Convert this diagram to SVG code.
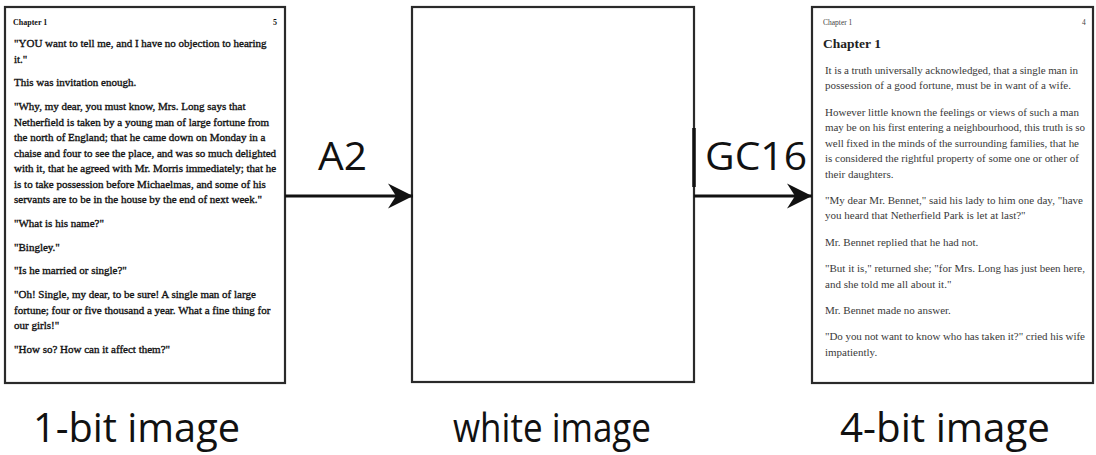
<svg xmlns="http://www.w3.org/2000/svg" width="1096" height="455" viewBox="0 0 1096 455">
  <style>
    .page { fill: #ffffff; stroke: #2a2a2a; stroke-width: 2.2; }
    .mono { font-family: "Liberation Serif", "Times New Roman", serif; font-size: 11px; fill: #111; stroke: #111; stroke-width: 0.35; }
    .gray { font-family: "Liberation Serif", "Times New Roman", serif; font-size: 11px; fill: #3a3a3a; }
    .hdr1 { font-family: "Liberation Serif", "Times New Roman", serif; font-size: 8px; font-weight: bold; fill: #111; }
    .hdr4 { font-family: "Liberation Serif", "Times New Roman", serif; font-size: 7.5px; fill: #444; }
    .head4 { font-family: "Liberation Serif", "Times New Roman", serif; font-size: 13.5px; font-weight: bold; fill: #222; }
    .edge { stroke: #111; stroke-width: 3; fill: none; }
    .tag { font-family: "Open Sans", "Noto Sans", sans-serif; font-size: 38px; fill: #111; }
    .cap { font-family: "Open Sans", "Noto Sans", sans-serif; font-size: 40px; fill: #111; }
  </style>
  <defs>
    <marker id="head" viewBox="0 0 26 26" refX="25" refY="13" markerWidth="26" markerHeight="26" markerUnits="userSpaceOnUse" orient="auto">
      <path d="M25 13 L0 0.5 L8 13 L0 25.5 Z" fill="#111"/>
    </marker>
  </defs>

  <!-- 1-bit page -->
  <g id="node-1bit">
    <rect class="page" x="5" y="7" width="280" height="376"/>
    <text class="hdr1" x="13" y="25">Chapter 1</text>
    <text class="hdr1" x="273" y="25">5</text>
    <text class="mono" x="14" y="47">"YOU want to tell me, and I have no objection to hearing</text>
    <text class="mono" x="14" y="62.5">it."</text>
    <text class="mono" x="14" y="86.3">This was invitation enough.</text>
    <text class="mono" x="14" y="110">"Why, my dear, you must know, Mrs. Long says that</text>
    <text class="mono" x="14" y="125.5">Netherfield is taken by a young man of large fortune from</text>
    <text class="mono" x="14" y="141">the north of England; that he came down on Monday in a</text>
    <text class="mono" x="14" y="156.5">chaise and four to see the place, and was so much delighted</text>
    <text class="mono" x="14" y="172">with it, that he agreed with Mr. Morris immediately; that he</text>
    <text class="mono" x="14" y="187.5">is to take possession before Michaelmas, and some of his</text>
    <text class="mono" x="14" y="203">servants are to be in the house by the end of next week."</text>
    <text class="mono" x="14" y="226.8">"What is his name?"</text>
    <text class="mono" x="14" y="250.6">"Bingley."</text>
    <text class="mono" x="14" y="274.4">"Is he married or single?"</text>
    <text class="mono" x="14" y="298.2">"Oh! Single, my dear, to be sure! A single man of large</text>
    <text class="mono" x="14" y="313.7">fortune; four or five thousand a year. What a fine thing for</text>
    <text class="mono" x="14" y="329.2">our girls!"</text>
    <text class="mono" x="14" y="353">"How so? How can it affect them?"</text>
  </g>

  <!-- white page -->
  <g id="node-white">
    <rect class="page" x="412" y="7" width="282" height="375"/>
  </g>

  <!-- 4-bit page (full lines are justified to the text column) -->
  <g id="node-4bit">
    <rect class="page" x="812" y="7" width="281" height="376"/>
    <text class="hdr4" x="823" y="25">Chapter 1</text>
    <text class="hdr4" x="1082" y="25">4</text>
    <text class="head4" x="823" y="47.5">Chapter 1</text>
    <text class="gray" x="825" y="73.8" textLength="253" lengthAdjust="spacing">It is a truth universally acknowledged, that a single man in</text>
    <text class="gray" x="825" y="89.3">possession of a good fortune, must be in want of a wife.</text>
    <text class="gray" x="825" y="115.6" textLength="254" lengthAdjust="spacing">However little known the feelings or views of such a man</text>
    <text class="gray" x="825" y="131.1" textLength="260" lengthAdjust="spacing">may be on his first entering a neighbourhood, this truth is so</text>
    <text class="gray" x="825" y="146.6" textLength="254" lengthAdjust="spacing">well fixed in the minds of the surrounding families, that he</text>
    <text class="gray" x="825" y="162.1" textLength="254" lengthAdjust="spacing">is considered the rightful property of some one or other of</text>
    <text class="gray" x="825" y="177.6">their daughters.</text>
    <text class="gray" x="825" y="203.9" textLength="258" lengthAdjust="spacing">"My dear Mr. Bennet," said his lady to him one day, "have</text>
    <text class="gray" x="825" y="219.4">you heard that Netherfield Park is let at last?"</text>
    <text class="gray" x="825" y="245.7">Mr. Bennet replied that he had not.</text>
    <text class="gray" x="825" y="272" textLength="260" lengthAdjust="spacing">"But it is," returned she; "for Mrs. Long has just been here,</text>
    <text class="gray" x="825" y="287.5">and she told me all about it."</text>
    <text class="gray" x="825" y="313.8">Mr. Bennet made no answer.</text>
    <text class="gray" x="825" y="340.1" textLength="260" lengthAdjust="spacing">"Do you not want to know who has taken it?" cried his wife</text>
    <text class="gray" x="825" y="355.6">impatiently.</text>
  </g>

  <!-- transitions between pages -->
  <g id="connectors">
    <line class="edge" x1="285" y1="196" x2="413" y2="196" marker-end="url(#head)"/>
    <line class="edge" x1="694" y1="196" x2="812" y2="196" marker-end="url(#head)"/>
    <line x1="694" y1="128" x2="694" y2="187" stroke="#111" stroke-width="3.5"/>
    <text class="tag" x="318" y="170" textLength="49" lengthAdjust="spacingAndGlyphs">A2</text>
    <text class="tag" x="705" y="170" textLength="102" lengthAdjust="spacingAndGlyphs">GC16</text>
  </g>

  <!-- captions -->
  <g id="captions">
    <text class="cap" x="33" y="442" textLength="207" lengthAdjust="spacingAndGlyphs">1-bit image</text>
    <text class="cap" x="453" y="442" textLength="198" lengthAdjust="spacingAndGlyphs">white image</text>
    <text class="cap" x="840" y="442" textLength="210" lengthAdjust="spacingAndGlyphs">4-bit image</text>
  </g>
</svg>
